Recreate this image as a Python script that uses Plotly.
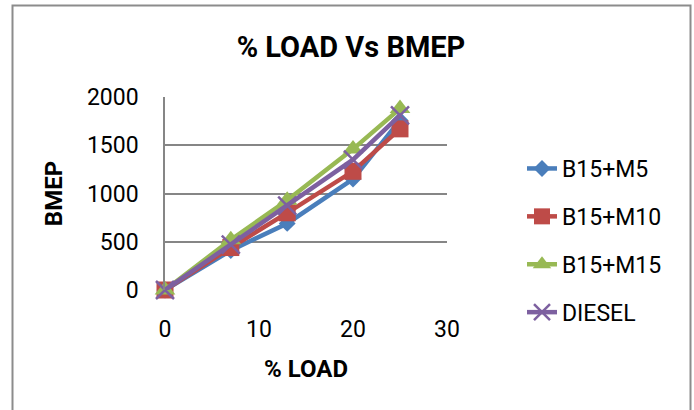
import plotly.graph_objects as go

load = [0, 7, 13, 20, 25]
series_names = ["B15+M5", "B15+M10", "B15+M15", "DIESEL"]
b15_m5 = [0, 410, 690, 1150, 1760]
b15_m10 = [0, 440, 800, 1230, 1670]
b15_m15 = [0, 520, 930, 1460, 1880]
diesel = [0, 470, 875, 1350, 1810]
y_ticks = [0, 500, 1000, 1500, 2000]
x_ticks = [0, 10, 20, 30]

colors = ["#4A7EBB", "#BE4B48", "#98B954", "#7D60A0"]
symbols = ["diamond", "square", "triangle-up", "x-thin"]
sizes = [13, 17, 18, 18]
values = [b15_m5, b15_m10, b15_m15, diesel]

FONT = "Roboto"
W, H = 694, 410
L, R, T, B = 165, 447, 97, 290

fig = go.Figure()
for i, (name, vals) in enumerate(zip(series_names, values)):
    marker = dict(symbol=symbols[i], size=sizes[i], color=colors[i])
    if symbols[i] == "x-thin":
        marker["line"] = dict(color=colors[i], width=2.5)
    else:
        marker["line"] = dict(width=0)
    fig.add_trace(go.Scatter(
        x=load, y=vals, name=name, mode="lines+markers",
        line=dict(color=colors[i], width=4.5),
        marker=marker, cliponaxis=False, legendgroup=name,
    ))

pw, ph = R - L, B - T
def px(x):
    return (x - L) / pw
def py(y):
    return (B - y) / ph

fig.add_shape(type="path", xref="paper", yref="paper",
              path=f"M {px(12.5)},{py(430)} L {px(12.5)},{py(5.5)} L {px(690.5)},{py(5.5)} L {px(690.5)},{py(430)}",
              line=dict(color="#8C8C8C", width=2))

fig.update_layout(
    width=W, height=H,
    margin=dict(l=L, r=W - R, t=T, b=H - B, pad=0),
    paper_bgcolor="white", plot_bgcolor="white",
    font=dict(family=FONT, size=23, color="black"),
    title=dict(text="<b>% LOAD Vs BMEP</b>", x=351 / W, xanchor="center",
               y=1 - 47 / H, yanchor="middle", font=dict(size=29, family=FONT)),
    xaxis=dict(range=[0, 30], tickvals=x_ticks, showgrid=False, zeroline=False,
               showline=False, ticks="outside", ticklen=18, tickcolor="rgba(0,0,0,0)",
               title=dict(text="<b>% LOAD</b>", font=dict(size=24), standoff=18)),
    yaxis=dict(range=[0, 2000], tickvals=y_ticks, showgrid=True, gridcolor="#868686",
               gridwidth=1.5, zeroline=False, showline=True, linecolor="#868686",
               linewidth=1.5, ticks="outside", ticklen=20, tickcolor="rgba(0,0,0,0)",
               title=dict(text="<b>BMEP</b>", font=dict(size=24), standoff=18)),
    legend=dict(x=px(522), xanchor="left", y=py(147), yanchor="top",
                font=dict(size=23), tracegroupgap=15, bgcolor="rgba(0,0,0,0)",
                itemwidth=30, maxheight=400),
    showlegend=True,
)

fig.write_html("out.html")
